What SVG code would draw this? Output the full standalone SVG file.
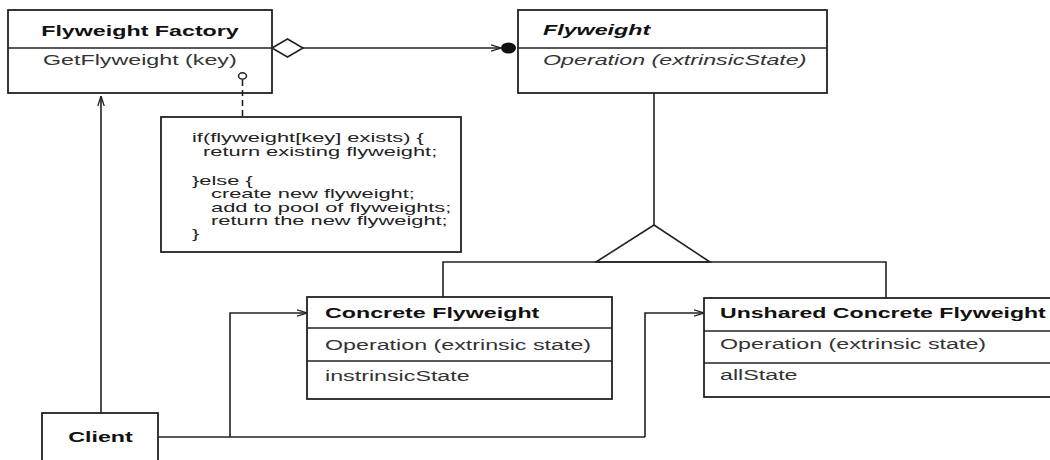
<svg xmlns="http://www.w3.org/2000/svg" width="1050" height="460" viewBox="0 0 1050 460">
<style>
.box{fill:#fff;stroke:#222;stroke-width:1.8}
.ln{fill:none;stroke:#222;stroke-width:1.6}
.t{font-family:"Liberation Sans",Arial,sans-serif;font-size:15.5px;fill:#333}
.b{font-weight:bold;fill:#111}
.i{font-style:italic}
.n{font-family:"Liberation Sans",Arial,sans-serif;font-size:13px;fill:#222}
</style>
<defs>
<marker id="open" viewBox="0 0 10 8" refX="10" refY="4" markerWidth="10" markerHeight="8" markerUnits="userSpaceOnUse" orient="auto">
<path d="M0,0.8 L10,4 L0,7.2" fill="none" stroke="#222" stroke-width="1.3"/>
</marker>
</defs>
<rect width="1050" height="460" fill="#fff"/>

<g id="factory">
<rect class="box" x="8" y="10" width="264" height="83"/>
<line class="ln" x1="8" y1="48" x2="272" y2="48"/>
<text class="t b" text-anchor="middle" transform="matrix(1.5 0 0 1 140 36)">Flyweight Factory</text>
<text class="t" transform="matrix(1.5 0 0 1 43 65)">GetFlyweight (key)</text>
</g>

<g id="flyweight">
<rect class="box" x="518" y="10" width="309" height="83"/>
<line class="ln" x1="518" y1="48" x2="827" y2="48"/>
<text class="t b i" transform="matrix(1.5 0 0 1 543 35)">Flyweight</text>
<text class="t i" transform="matrix(1.5 0 0 1 543 65)">Operation (extrinsicState)</text>
</g>

<g id="note">
<rect class="box" x="161" y="117" width="300" height="135"/>
<text class="n" transform="matrix(1.68 0 0 1 192 142)">if(flyweight[key] exists) {</text>
<text class="n" transform="matrix(1.68 0 0 1 203 156)">return existing flyweight;</text>
<text class="n" transform="matrix(1.68 0 0 1 192 185)">}else {</text>
<text class="n" transform="matrix(1.68 0 0 1 211 198)">create new flyweight;</text>
<text class="n" transform="matrix(1.68 0 0 1 211 212)">add to pool of flyweights;</text>
<text class="n" transform="matrix(1.68 0 0 1 211 225)">return the new flyweight;</text>
<text class="n" transform="matrix(1.68 0 0 1 192 238)">}</text>
</g>

<g id="concrete">
<rect class="box" x="307" y="297" width="305" height="102"/>
<line class="ln" x1="307" y1="328" x2="612" y2="328"/>
<line class="ln" x1="307" y1="361" x2="612" y2="361"/>
<text class="t b" transform="matrix(1.5 0 0 1 325 318)">Concrete Flyweight</text>
<text class="t" transform="matrix(1.5 0 0 1 325 350)">Operation (extrinsic state)</text>
<text class="t" transform="matrix(1.5 0 0 1 325 381)">instrinsicState</text>
</g>

<g id="unshared">
<rect class="box" x="704" y="298" width="360" height="99"/>
<line class="ln" x1="704" y1="331" x2="1064" y2="331"/>
<line class="ln" x1="704" y1="363" x2="1064" y2="363"/>
<text class="t b" transform="matrix(1.49 0 0 1 720 318)">Unshared Concrete Flyweight</text>
<text class="t" transform="matrix(1.5 0 0 1 720 349)">Operation (extrinsic state)</text>
<text class="t" transform="matrix(1.5 0 0 1 720 380)">allState</text>
</g>

<g id="client">
<rect class="box" x="42" y="413" width="116" height="60"/>
<text class="t b" text-anchor="middle" transform="matrix(1.5 0 0 1 100.5 442)">Client</text>
</g>

<g id="connectors">
<polygon class="ln" points="272,48 287.5,39 303,48 287.5,57" style="fill:#fff"/>
<line class="ln" x1="303" y1="48" x2="501" y2="48" marker-end="url(#open)"/>
<ellipse cx="508.5" cy="48" rx="7.5" ry="5.5" fill="#111"/>
<ellipse cx="242.5" cy="76" rx="4" ry="3.2" fill="#fff" stroke="#222" stroke-width="1.5"/>
<line class="ln" x1="242.5" y1="80" x2="242.5" y2="117" stroke-dasharray="6,4"/>
<line class="ln" x1="654" y1="93" x2="654" y2="225"/>
<polygon class="ln" points="654,225 596,262 710,262" style="fill:#fff"/>
<polyline class="ln" points="443,297 443,262 886,262 886,298"/>
<line class="ln" x1="101" y1="413" x2="101" y2="96" marker-end="url(#open)"/>
<line class="ln" x1="158" y1="437" x2="645" y2="437"/>
<polyline class="ln" points="230,437 230,313 307,313" marker-end="url(#open)"/>
<polyline class="ln" points="645,437 645,313 704,313" marker-end="url(#open)"/>
</g>
</svg>
